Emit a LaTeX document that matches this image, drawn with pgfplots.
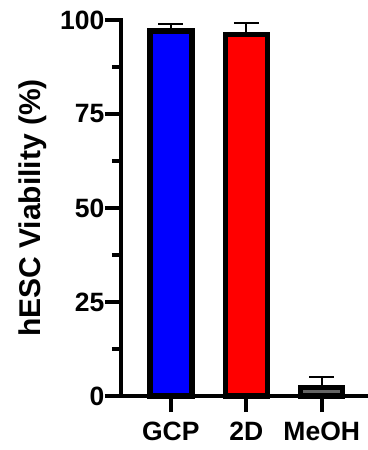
\documentclass[border=0pt]{standalone}
\usepackage{fontspec}
\setmainfont{Liberation Sans}
\usepackage{pgfplots}
\pgfplotsset{compat=1.18}
\definecolor{mgray}{RGB}{100,100,100}
\begin{document}
\begin{tikzpicture}
\begin{axis}[
  scale only axis,
  width=246pt, height=376pt,
  xmin=-0.66, xmax=2.6,
  ymin=0, ymax=100,
  axis x line*=bottom, axis y line*=left,
  axis line style={line width=4pt, line cap=rect},
  every tick/.style={black, line width=4pt},
  tick align=outside,
  major tick length=16pt,
  minor tick length=9pt,
  ytick={0,25,50,75,100},
  minor ytick={12.5,37.5,62.5,87.5},
  xtick={0,1,2},
  xticklabels={GCP,2D,MeOH},
  /pgf/number format/assume math mode=true,
  ticklabel style={font=\fontsize{26.5}{31}\selectfont\bfseries},
  yticklabel style={xshift=3pt},
  xticklabel style={yshift=-6pt},
  ylabel={hESC Viability (\%)},
  ylabel style={font=\fontsize{30}{36}\selectfont\bfseries, yshift=7pt},
  clip=false,
]
\coordinate (A) at (rel axis cs:0,0);
\addplot[ybar, bar width=42pt, fill=blue, draw=black, line width=5.5pt,
  error bars/.cd, y dir=plus, y explicit,
  error bar style={line width=2.2pt, black},
  error mark options={rotate=90, mark size=12.5pt, line width=2.2pt, black}]
  coordinates {(0,97.1) +- (0,1.8)};
\addplot[ybar, bar width=42pt, fill=red, draw=black, line width=5.5pt,
  error bars/.cd, y dir=plus, y explicit,
  error bar style={line width=2.2pt, black},
  error mark options={rotate=90, mark size=12.5pt, line width=2.2pt, black}]
  coordinates {(1,96.2) +- (0,3.0)};
\addplot[ybar, bar width=42pt, fill=mgray, draw=black, line width=5.5pt,
  error bars/.cd, y dir=plus, y explicit,
  error bar style={line width=2.2pt, black},
  error mark options={rotate=90, mark size=12.5pt, line width=2.2pt, black}]
  coordinates {(2,2.2) +- (0,2.9)};
\end{axis}
\pgfresetboundingbox
\path ([shift={(-121pt,-54pt)}]A) rectangle ([shift={(246pt,396pt)}]A);
\end{tikzpicture}
\end{document}
